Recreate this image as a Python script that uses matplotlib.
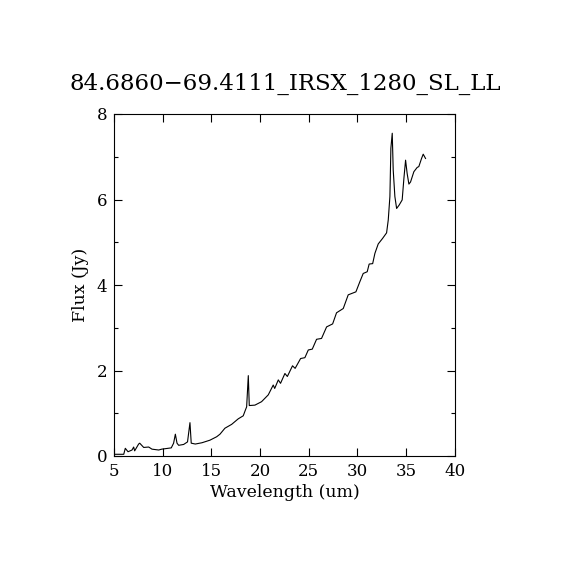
import matplotlib
matplotlib.use("Agg")
import matplotlib.pyplot as plt
from matplotlib.ticker import MultipleLocator

# -------------------- DATOS --------------------
wavelength = [5.07, 6.0, 6.16, 6.44, 6.85, 7.02, 7.12, 7.53, 7.64, 8.05,
              8.56, 8.9, 9.59, 9.9, 10.88, 11.12, 11.3, 11.47, 11.64, 12.15,
              12.55, 12.8, 12.93, 13.35, 14.03, 14.85, 15.54, 15.88, 16.39, 17.08,
              17.76, 18.27, 18.5, 18.62, 18.79, 18.89, 19.47, 20.15, 20.84, 21.35,
              21.5, 21.87, 22.1, 22.55, 22.8, 23.33, 23.6, 24.16, 24.6, 24.95,
              25.36, 25.8, 26.31, 26.83, 27.45, 27.85, 28.54, 29.05, 29.84, 30.25,
              30.59, 31.0, 31.2, 31.56, 31.79, 32.13, 32.58, 32.99, 33.16, 33.33,
              33.43, 33.57, 33.67, 33.84, 34.02, 34.28, 34.59, 34.77, 34.94, 35.1,
              35.28, 35.45, 35.79, 36.13, 36.3, 36.58, 36.75, 36.99]
flux = [0.04, 0.04, 0.18, 0.10, 0.14, 0.21, 0.12, 0.28, 0.30, 0.20,
        0.21, 0.16, 0.14, 0.16, 0.19, 0.30, 0.51, 0.30, 0.25, 0.27,
        0.33, 0.78, 0.30, 0.28, 0.31, 0.37, 0.45, 0.51, 0.65, 0.74,
        0.87, 0.94, 1.08, 1.15, 1.88, 1.18, 1.19, 1.27, 1.43, 1.66,
        1.58, 1.78, 1.70, 1.93, 1.86, 2.11, 2.05, 2.28, 2.30, 2.48,
        2.50, 2.73, 2.75, 3.02, 3.09, 3.35, 3.45, 3.77, 3.84, 4.08,
        4.27, 4.31, 4.49, 4.50, 4.74, 4.96, 5.09, 5.22, 5.52, 6.07,
        7.20, 7.55, 6.69, 6.07, 5.79, 5.87, 5.99, 6.50, 6.92, 6.61,
        6.36, 6.41, 6.65, 6.75, 6.77, 6.96, 7.06, 6.96]

titulo = "84.6860\u221269.4111_IRSX_1280_SL_LL"

# -------------------- FIGURA --------------------
plt.rcParams['font.family'] = ['DejaVu Serif']
fig = plt.figure(figsize=(5.7, 5.7), dpi=100)
ax = fig.add_axes([0.2, 0.2, 0.598, 0.6])

ax.plot(wavelength, flux, color='black', lw=0.8)

ax.set_xlim(5, 40)
ax.set_ylim(0, 8)
ax.xaxis.set_major_locator(MultipleLocator(5))
ax.yaxis.set_major_locator(MultipleLocator(2))
ax.yaxis.set_minor_locator(MultipleLocator(1))
ax.tick_params(which='both', direction='in', top=True, right=True, labelsize=12)
ax.tick_params(which='major', length=6, width=0.8, pad=5)
ax.tick_params(which='minor', length=3, width=0.8)
for s in ax.spines.values():
    s.set_linewidth(0.8)

ax.set_xlabel("Wavelength (um)", fontsize=12.5, labelpad=3)
ax.set_ylabel("Flux (Jy)", fontsize=12.5, labelpad=5)
fig.text(0.5, 0.852, titulo, ha='center', va='center', fontsize=16.5)

fig.savefig("out.png", dpi=100)
